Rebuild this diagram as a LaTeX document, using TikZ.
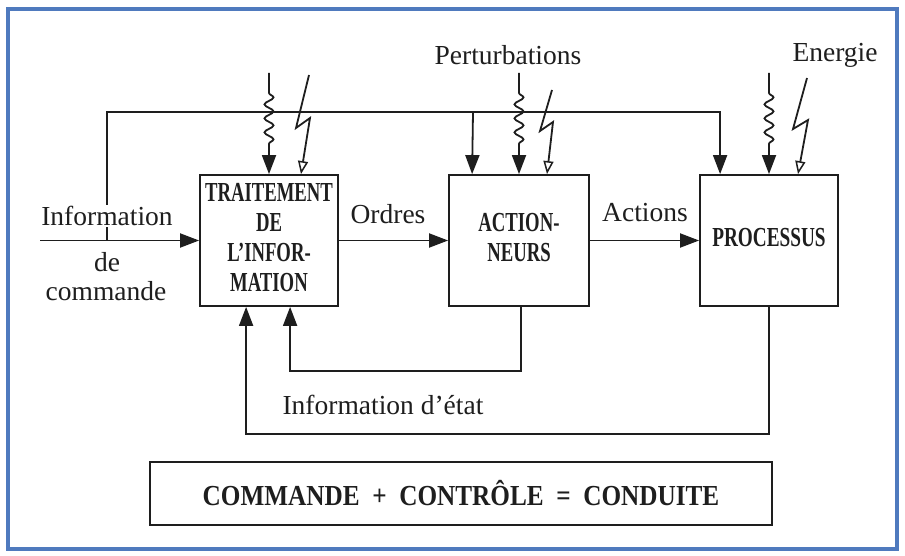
\documentclass[tikz,border=0pt]{standalone}
\usepackage{graphicx}
\usepackage{fontspec}
\setmainfont{Liberation Serif}
\usetikzlibrary{arrows.meta,decorations.pathmorphing}
\definecolor{frameblue}{RGB}{79,122,190}
\definecolor{ink}{RGB}{30,30,30}
\newcommand\boxtxt[2][0.68]{\scalebox{#1}[1]{\fontsize{27.5}{30}\selectfont\bfseries\begin{tabular}{@{}c@{}}#2\end{tabular}}}
\begin{document}
\begin{tikzpicture}[x=1pt,y=-1pt,
  line width=1.8pt, ink,
  lab/.style={font=\fontsize{27.5}{32}\selectfont, text=ink, inner sep=1pt},
  blk/.style={draw=ink, line width=1.8pt, minimum height=131pt, inner sep=0pt, align=center},
  arr/.style={-{Triangle[length=19pt,width=14pt]}},
  harr/.style={-{Triangle[open,length=13pt,width=10pt,line width=1.5pt]}},
  wavy/.style={arr, decorate, decoration={snake, amplitude=4.5pt, segment length=14pt, pre length=20pt, post length=25pt}},
  bolt/.style={harr, line join=miter}]
\fill[white] (0,0) rectangle (905,556);
\useasboundingbox (0,0) rectangle (905,556);
\draw[frameblue, line width=4.5pt] (8,9) rectangle (897,549);

% blocks
\node[blk, minimum width=138pt] (trait) at (269,240.5) {\boxtxt{TRAITEMENT\\DE\\L'INFOR-\\MATION}};
\node[blk, minimum width=140pt] (act) at (519,240.5) {\boxtxt{ACTION-\\NEURS}};
\node[blk, minimum width=138pt] (proc) at (769,240.5) {\boxtxt[0.7]{PROCESSUS}};
\node[draw=ink, line width=1.8pt, minimum width=622pt, minimum height=63pt, inner sep=0pt] (cond) at (461,493.5)
  {\scalebox{0.87}[1]{\fontsize{29}{32}\selectfont\bfseries COMMANDE\ \ +\ \ CONTRÔLE\ \ =\ \ CONDUITE}};

% coordinates
\coordinate (inL) at (40,240.5);
\coordinate (tap) at (107,240.5);
\coordinate (topL) at (107,112);
\coordinate (br) at (473,112);
\coordinate (w1) at (269,73);
\coordinate (w2) at (519,73);
\coordinate (w3) at (769,73);

% main flow
\draw[arr] (inL) -- (trait.west);
\draw[arr] (trait.east) -- (act.west);
\draw[arr] (act.east) -- (proc.west);

% top line
\draw[arr] (tap) -- (topL) -| ([xshift=21pt]proc.north west);
\draw[arr] (br) -- ([xshift=24pt]act.north west);

% feedback
\draw[arr] ([xshift=2pt]act.south) -- ++(0,64) -| ([xshift=91pt]trait.south west);
\draw[arr] (proc.south) -- ++(0,127) -| ([xshift=47pt]trait.south west);

% disturbances (wavy)
\draw[wavy] (w1) -- (trait.north);
\draw[wavy] (w2) -- (act.north);
\draw[wavy] (w3) -- (proc.north);

% energy (lightning)
\draw[bolt] (309,75) -- (296,128) -- (310,118) -- ([xshift=32pt]trait.north);
\draw[bolt] (552,90) -- (540,131) -- (553,122) -- ([xshift=28pt]act.north);
\draw[bolt] (807,78) -- (793,129) -- (808,120) -- ([xshift=29pt]proc.north);

% labels
\node[lab, fill=white] (linfo) at (107,216) {Information};
\node[lab] (lde) at (107,262) {de};
\node[lab] (lcmd) at (106,291) {commande};
\node[lab] (lord) at (388,214) {Ordres};
\node[lab] (lact) at (645,213) {Actions};
\node[lab] (lpert) at (508,55) {Perturbations};
\node[lab] (lener) at (835,55) {Energie};
\node[lab] (letat) at (383,405) {Information d'état};
\end{tikzpicture}
\end{document}
